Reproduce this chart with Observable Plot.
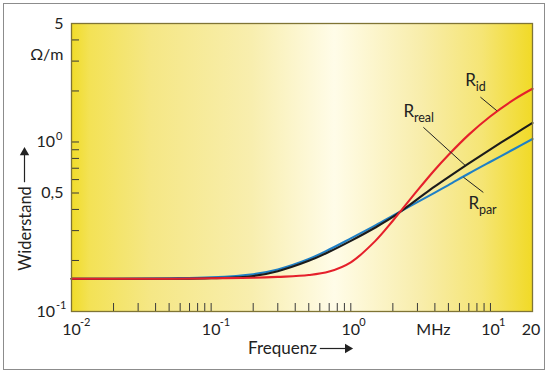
<!DOCTYPE html>
<html><head><meta charset="utf-8">
<script src="https://cdn.jsdelivr.net/npm/d3@7"></script>
<script src="https://cdn.jsdelivr.net/npm/@observablehq/plot@0.6"></script>
<style>
body{margin:0;background:#fff;}
#wrap{position:relative;width:548px;height:373px;}
#border{position:absolute;left:3px;top:3px;width:540px;height:365px;border:1.5px solid #8c8c8c;}
#chart{position:absolute;left:0;top:0;}
</style></head><body>
<div id="wrap"><div id="border"></div><div id="chart"></div></div>
<script>
// Frequency in MHz
const freq  = [0.01, 0.02, 0.05, 0.1, 0.2, 0.3, 0.5, 0.7, 1, 1.5, 2, 3, 4, 5, 7, 10, 15, 20];
// Resistance in Ohm/m
const rPar  = [0.156, 0.156, 0.157, 0.159, 0.166, 0.177, 0.204, 0.232, 0.270, 0.322, 0.367, 0.442, 0.503, 0.557, 0.652, 0.765, 0.915, 1.042];
const rReal = [0.156, 0.156, 0.156, 0.157, 0.162, 0.173, 0.199, 0.225, 0.261, 0.313, 0.361, 0.460, 0.547, 0.621, 0.747, 0.905, 1.118, 1.295];
const rId   = [0.156, 0.156, 0.156, 0.157, 0.158, 0.160, 0.164, 0.172, 0.195, 0.261, 0.343, 0.518, 0.686, 0.838, 1.105, 1.419, 1.795, 2.060];

const xMinorTicks = [0.02,0.03,0.04,0.05,0.06,0.07,0.08,0.09,0.1,0.2,0.3,0.4,0.5,0.6,0.7,0.8,0.9,1,2,3,4,5,6,7,8,9,10];
const yMinorTicks = [0.2,0.3,0.4,0.5,0.6,0.7,0.8,0.9,1,2,3,4];

const xTickLabels = [
  {v: 0.01, base: "10", exp: "-2"},
  {v: 0.1,  base: "10", exp: "-1"},
  {v: 1,    base: "10", exp: "0"},
  {v: 3.9,  base: "MHz", exp: ""},
  {v: 10,   base: "10", exp: "1"},
  {v: 19.5, base: "20", exp: ""}
];
const yTickLabels = [
  {v: 5,    base: "5",   exp: ""},
  {v: 3.28, base: "Ω/m", exp: ""},
  {v: 1,    base: "10",  exp: "0"},
  {v: 0.5,  base: "0,5", exp: ""},
  {v: 0.1,  base: "10",  exp: "-1"}
];

const curveLabels = [
  {name: "R", sub: "id",   f: 6.61, r: 2.29},
  {name: "R", sub: "real", f: 2.38, r: 1.51},
  {name: "R", sub: "par",  f: 6.95, r: 0.433}
];
const leaders = [
  {x1: 8.47, y1: 1.84, x2: 11.1, y2: 1.53},
  {x1: 3.31, y1: 1.22, x2: 6.61, y2: 0.726},
  {x1: 6.40, y1: 0.62, x2: 8.89, y2: 0.504}
];
const axisTitles = {x: {label: "Frequenz", pos: 0.324}, y: {label: "Widerstand", pos: 0.309}};

const series = [
  {name: "Rpar",  values: rPar,  color: "#1f80c6"},
  {name: "Rreal", values: rReal, color: "#1b1b1b"},
  {name: "Rid",   values: rId,   color: "#e5202b"}
];
const rows = series.flatMap(s => freq.map((f, i) => ({series: s.name, f, r: s.values[i], color: s.color})));

const FONT = "Lato, 'Open Sans', sans-serif";
const INK = "#222";

const chart = Plot.plot({
  width: 548, height: 373,
  marginLeft: 71, marginRight: 16, marginTop: 23, marginBottom: 62,
  x: {type: "log", domain: [0.01, 20]},
  y: {type: "log", domain: [0.1, 5]},
  style: {fontFamily: FONT, background: "transparent", color: INK},
  marks: [
    Plot.frame({fill: "url(#bgGrad)", stroke: "none"}),
    // inward ticks
    Plot.axisX(xMinorTicks, {tickSize: 8, dy: -8, tickFormat: () => "", stroke: "#3a3a3a", label: null}),
    Plot.axisY(yMinorTicks, {tickSize: 8, dx: 8, tickFormat: () => "", stroke: "#3a3a3a", label: null}),
    // curves
    Plot.line(rows, {x: "f", y: "r", z: "series", stroke: "color", strokeWidth: 2.1, curve: "catmull-rom"}),
    // leader lines
    Plot.link(leaders, {x1: "x1", y1: "y1", x2: "x2", y2: "y2", stroke: INK, strokeWidth: 1}),
    // curve labels
    Plot.text(curveLabels, {x: "f", y: "r", text: "name", textAnchor: "start", lineAnchor: "middle", fontSize: 17, fill: INK}),
    Plot.text(curveLabels, {x: "f", y: "r", text: "sub", textAnchor: "start", lineAnchor: "middle", fontSize: 12.5, dx: 10.5, dy: 6, fill: INK}),
    // x tick labels
    Plot.text(xTickLabels, {x: "v", text: "base", frameAnchor: "bottom", dy: 18, lineAnchor: "middle", fontSize: 16, fill: INK, ariaLabel: "tick-label"}),
    Plot.text(xTickLabels, {x: "v", text: "exp", frameAnchor: "bottom", dy: 11, dx: 8.5, textAnchor: "start", lineAnchor: "middle", fontSize: 11, fill: INK, ariaLabel: "tick-label"}),
    // y tick labels
    Plot.text(yTickLabels.filter(d => !d.exp), {y: "v", text: "base", frameAnchor: "left", dx: -8, textAnchor: "end", lineAnchor: "middle", fontSize: 16, fill: INK, ariaLabel: "tick-label"}),
    Plot.text(yTickLabels.filter(d => d.exp), {y: "v", text: "base", frameAnchor: "left", dx: -16.5, textAnchor: "end", lineAnchor: "middle", fontSize: 16, fill: INK, ariaLabel: "tick-label"}),
    Plot.text(yTickLabels.filter(d => d.exp), {y: "v", text: "exp", frameAnchor: "left", dx: -15.5, dy: -6, textAnchor: "start", lineAnchor: "middle", fontSize: 11, fill: INK, ariaLabel: "tick-label"}),
    // axis titles with arrows
    Plot.text([axisTitles.x], {x: "pos", text: "label", frameAnchor: "bottom", dy: 37, textAnchor: "middle", lineAnchor: "middle", fontSize: 17, fill: INK, ariaLabel: "axis-title"}),
    Plot.ruleY([0.1], {x1: 0.605, x2: 0.92, dy: 37, stroke: INK, strokeWidth: 1.2}),
    Plot.dot([0], {x: () => 0.95, frameAnchor: "bottom", dy: 37, symbol: "triangle", rotate: 90, r: 3.5, fill: INK, stroke: "none"}),
    Plot.text([axisTitles.y], {y: "pos", text: "label", frameAnchor: "left", dx: -46, rotate: -90, textAnchor: "middle", lineAnchor: "middle", fontSize: 16.5, fill: INK, ariaLabel: "axis-title-y"}),
    Plot.ruleX([0.01], {y1: 0.575, y2: 0.84, dx: -47, stroke: INK, strokeWidth: 1.2}),
    Plot.dot([0], {y: () => 0.867, frameAnchor: "left", dx: -47, symbol: "triangle", r: 3.5, fill: INK, stroke: "none"}),
    Plot.frame({stroke: "#7f7435", strokeWidth: 1.3})
  ]
});

// condense label text horizontally (the original uses a condensed face)
const condense = {"tick-label": 0.85, "axis-title": 0.9, "axis-title-y": 0.86};
for (const [lab, s] of Object.entries(condense)) {
  chart.querySelectorAll(`g[aria-label="${lab}"] text`).forEach(t => {
    const x = t.getAttribute("x") || 0, y = t.getAttribute("y") || 0;
    t.removeAttribute("x"); t.removeAttribute("y");
    const tr = t.getAttribute("transform") || "";
    t.setAttribute("transform", `${tr} translate(${x},${y}) scale(${s},1)`);
  });
}

const svgNS = "http://www.w3.org/2000/svg";
const defs = document.createElementNS(svgNS, "defs");
defs.innerHTML = `<linearGradient id="bgGrad" x1="0" x2="1" y1="0" y2="0">
  <stop offset="0" stop-color="#f1dc2a"/>
  <stop offset="0.04" stop-color="#f3e256"/>
  <stop offset="0.17" stop-color="#f5e785"/>
  <stop offset="0.39" stop-color="#f8eeae"/>
  <stop offset="0.57" stop-color="#fffce8"/>
  <stop offset="0.76" stop-color="#f8edaa"/>
  <stop offset="0.89" stop-color="#f5e575"/>
  <stop offset="1" stop-color="#f1da26"/>
</linearGradient>`;
chart.insertBefore(defs, chart.firstChild);
document.getElementById("chart").appendChild(chart);
</script>
</body></html>
